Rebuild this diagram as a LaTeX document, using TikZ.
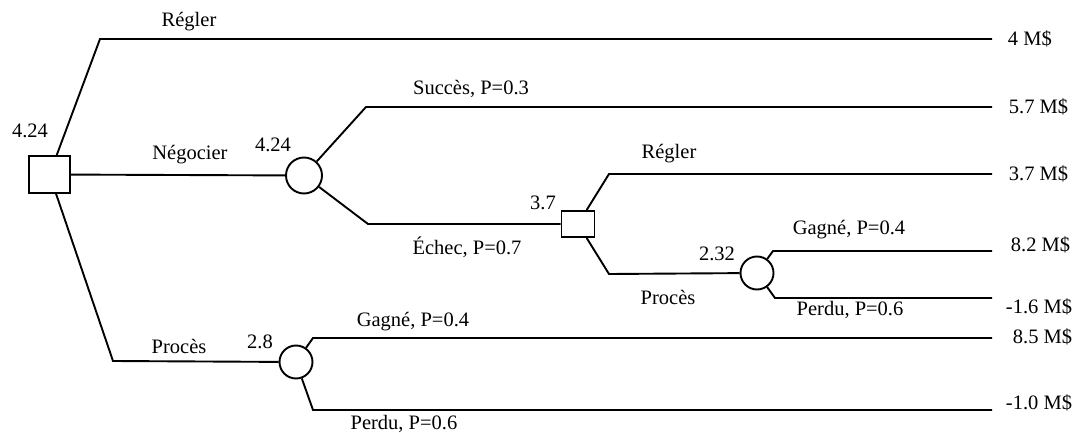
\documentclass[tikz,border=0pt]{standalone}
\usepackage{fontspec}
\setmainfont{Liberation Serif}
\usepackage{tikz}

\tikzset{
  decision/.style={draw,rectangle,inner sep=0pt,fill=white},
  chance/.style={draw,circle,inner sep=0pt,minimum size=33pt,fill=white},
  lbl/.style={inner sep=0pt},
  payoff/.style={inner sep=0pt,anchor=west}
}

\begin{document}
\begin{tikzpicture}[x=1pt,y=-1pt,line width=1.9pt,font=\fontsize{20.5}{24}\selectfont]
  \useasboundingbox (0,0) rectangle (1076,433);
  % decision and chance nodes
  \node[decision,minimum width=41pt,minimum height=37pt] (d0) at (49.5,174.5) {};
  \node[chance,minimum size=36pt] (c1) at (304,175.5) {};
  \node[decision,minimum width=33pt,minimum height=26pt] (d1) at (578,224) {};
  \node[chance] (c2) at (757,273) {};
  \node[chance] (c3) at (296,362) {};
  % bends and ends of the branches
  \coordinate (a1) at (100,39);  \coordinate (e1) at (992,39);
  \coordinate (a2) at (366,107); \coordinate (e2) at (992,107);
  \coordinate (a3) at (368,224);
  \coordinate (a4) at (609,174); \coordinate (e4) at (992,174);
  \coordinate (a5) at (609,274);
  \coordinate (a6) at (773,251); \coordinate (e6) at (992,251);
  \coordinate (a7) at (775,298); \coordinate (e7) at (992,298);
  \coordinate (a8) at (113,361);
  \coordinate (a9) at (313,338); \coordinate (e9) at (992,338);
  \coordinate (a10) at (313,410); \coordinate (e10) at (992,410);
  % branches
  \draw (d0) -- (a1) -- (e1);
  \draw (d0) -- (c1);
  \draw (c1) -- (a2) -- (e2);
  \draw (c1) -- (a3) -- (d1);
  \draw (d1) -- (a4) -- (e4);
  \draw (d1) -- (a5) -- (c2);
  \draw (c2) -- (a6) -- (e6);
  \draw (c2) -- (a7) -- (e7);
  \draw (d0) -- (a8) -- (c3);
  \draw (c3) -- (a9) -- (e9);
  \draw (c3) -- (a10) -- (e10);
  % values at the nodes
  \node[lbl] (v0) at (30,131) {4.24};
  \node[lbl] (v1) at (273,145) {4.24};
  \node[lbl] (v2) at (543,203) {3.7};
  \node[lbl] (v3) at (717,254) {2.32};
  \node[lbl] (v4) at (260,342) {2.8};
  % branch labels
  \node[lbl] (l1) at (189,22) {Régler};
  \node[lbl] (l2) at (190,155) {Négocier};
  \node[lbl] (l3) at (179,346) {Procès};
  \node[lbl] (l4) at (471,89) {Succès, P=0.3};
  \node[lbl] (l5) at (467,247) {Échec, P=0.7};
  \node[lbl] (l6) at (669,154) {Régler};
  \node[lbl] (l7) at (668,297) {Procès};
  \node[lbl] (l8) at (849,230) {Gagné, P=0.4};
  \node[lbl] (l9) at (850,310) {Perdu, P=0.6};
  \node[lbl] (l10) at (413,322) {Gagné, P=0.4};
  \node[lbl] (l11) at (404,424) {Perdu, P=0.6};
  % payoffs
  \node[payoff] (p1) at (1007,39) {4 M\$};
  \node[payoff] (p2) at (1008,107) {5.7 M\$};
  \node[payoff] (p3) at (1008,174) {3.7 M\$};
  \node[payoff] (p4) at (1010,245) {8.2 M\$};
  \node[payoff] (p5) at (1005,307) {-1.6 M\$};
  \node[payoff] (p6) at (1012,337) {8.5 M\$};
  \node[payoff] (p7) at (1005,403) {-1.0 M\$};
\end{tikzpicture}
\end{document}
